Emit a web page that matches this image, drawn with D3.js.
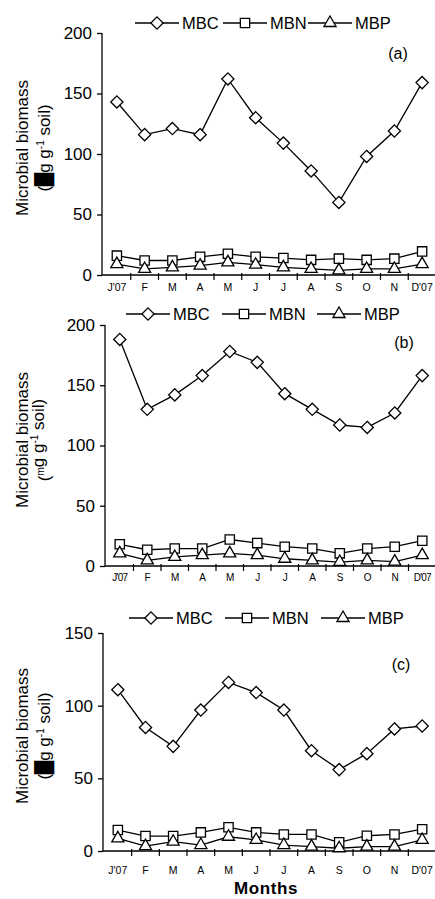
<!DOCTYPE html>
<html>
<head>
<meta charset="utf-8">
<script src="https://cdn.jsdelivr.net/npm/d3@7"></script>
<style>
  html, body { margin: 0; padding: 0; background: #fff; }
  svg { display: block; }
  text { font-family: "Liberation Sans", Arial, sans-serif; fill: #000; }
</style>
</head>
<body>
<div id="chart"></div>
<script>
(function () {
    "use strict";

    // month labels (x categories)
    var months = ["J'07", "F", "M", "A", "M", "J", "J", "A", "S", "O", "N", "D'07"];
    var seriesNames = ["MBC", "MBN", "MBP"];

    // panel (a)
    var mbcA = [143, 116, 121, 116, 162, 130, 109, 86, 60, 98, 119, 159];
    var mbnA = [16, 12, 12, 15, 17.5, 15, 14, 12.5, 13.5, 12.5, 13.5, 19.5];
    var mbpA = [9, 5, 6.3, 7.7, 10.4, 8.5, 6.3, 5, 3.8, 5, 5, 9];

    // panel (b)
    var mbcB = [188, 130, 142, 158, 178, 169, 143, 130, 117, 115, 127, 158];
    var mbnB = [18, 13.5, 14.5, 14.5, 22, 19, 16, 14.5, 10.5, 14.5, 16, 21];
    var mbpB = [10.5, 4.7, 7.5, 9, 10.5, 9, 6, 4.7, 3.3, 4.7, 3.6, 9];

    // panel (c)
    var mbcC = [111, 85, 72, 97, 116, 109, 97, 69, 56, 67, 84, 86];
    var mbnC = [14.4, 10.3, 10.3, 12.8, 16.3, 12.8, 11.4, 11.4, 6, 10.5, 11.4, 15];
    var mbpC = [8.7, 3.4, 6.4, 4.1, 9.8, 7.6, 4.1, 3, 1.9, 3, 3, 7.6];

    var ticks200 = [0, 50, 100, 150, 200];
    var ticks150 = [0, 50, 100, 150];

    var W = 435, H = 899;

    var panels = [
        { tag: "(a)", series: [mbcA, mbnA, mbpA], yMax: 200, ticks: ticks200,
          top: 33, bottom: 275, axisX: 102, legendY: 23, legendX: [135, 223, 308],
          tagX: 398, tagY: 59, titleY: 148, unit: "block",
          monthY: 291, monthSize: 10.5, monthSpacing: 0 },
        { tag: "(b)", series: [mbcB, mbnB, mbpB], yMax: 200, ticks: ticks200,
          top: 325, bottom: 566, axisX: 105, legendY: 314, legendX: [126, 222, 317],
          tagX: 404, tagY: 348, titleY: 440, unit: "m",
          monthY: 581, monthSize: 10, monthSpacing: -0.8 },
        { tag: "(c)", series: [mbcC, mbnC, mbpC], yMax: 150, ticks: ticks150,
          top: 633, bottom: 851, axisX: 103, legendY: 618, legendX: [129, 225, 321],
          tagX: 401, tagY: 670, titleY: 736, unit: "block",
          monthY: 874, monthSize: 10.5, monthSpacing: 0 }
    ];

    var svg = d3.select("#chart").append("svg")
        .attr("width", W)
        .attr("height", H);

    var symbols = [d3.symbolDiamond2, d3.symbolSquare2, d3.symbolTriangle2];
    var symSize = [95, 110, 105];

    function marker(g, i) {
        return g.append("path")
            .attr("d", d3.symbol().type(symbols[i]).size(symSize[i])())
            .attr("fill", "#fff")
            .attr("stroke", "#000")
            .attr("stroke-width", 1.3);
    }

    panels.forEach(function (p) {
        var g = svg.append("g");

        var x = d3.scaleBand()
            .domain(d3.range(months.length))
            .range([p.axisX + 1, W + 1]);

        var y = d3.scaleLinear()
            .domain([0, p.yMax])
            .range([p.bottom, p.top]);

        // y axis
        var yAxis = g.append("g")
            .attr("transform", "translate(" + p.axisX + ",0)")
            .call(d3.axisLeft(y).tickValues(p.ticks).tickSize(5).tickPadding(5));
        yAxis.select(".domain").attr("stroke", "#000").attr("stroke-width", 1.3)
            .attr("d", "M0," + y(0) + "V" + y(p.yMax));
        yAxis.selectAll(".tick line").attr("stroke", "#000").attr("stroke-width", 1.3);
        yAxis.selectAll(".tick text")
            .attr("font-family", "Liberation Sans, Arial, sans-serif")
            .attr("font-size", 17)
            .attr("fill", "#000");

        // x axis line with ticks at category boundaries
        var xg = g.append("g").attr("transform", "translate(0," + y(0) + ")");
        xg.append("line")
            .attr("x1", p.axisX).attr("x2", W)
            .attr("stroke", "#000").attr("stroke-width", 1.3);
        xg.selectAll("line.tk")
            .data(d3.range(1, months.length))
            .enter().append("line")
            .attr("class", "tk")
            .attr("x1", function (d) { return x(d); })
            .attr("x2", function (d) { return x(d); })
            .attr("y1", -2).attr("y2", 5)
            .attr("stroke", "#000").attr("stroke-width", 1.2);

        g.selectAll("text.month")
            .data(months)
            .enter().append("text")
            .attr("class", "month")
            .attr("x", function (d, i) { return x(i) + x.bandwidth() / 2; })
            .attr("y", p.monthY)
            .attr("text-anchor", "middle")
            .attr("font-size", p.monthSize)
            .attr("letter-spacing", p.monthSpacing)
            .text(function (d) { return d; });

        // series
        var line = d3.line()
            .x(function (d, i) { return x(i) + x.bandwidth() / 2; })
            .y(function (d) { return y(d); });

        p.series.forEach(function (vals) {
            g.append("path")
                .datum(vals)
                .attr("d", line)
                .attr("fill", "none")
                .attr("stroke", "#000")
                .attr("stroke-width", 1.3);
        });
        p.series.forEach(function (vals, si) {
            vals.forEach(function (v, i) {
                marker(g, si).attr("transform", "translate(" + (x(i) + x.bandwidth() / 2) + "," + y(v) + ")");
            });
        });

        // legend
        seriesNames.forEach(function (name, si) {
            var lx = p.legendX[si];
            var lg = g.append("g").attr("transform", "translate(" + lx + "," + p.legendY + ")");
            lg.append("line")
                .attr("x1", 0).attr("x2", 44)
                .attr("stroke", "#000").attr("stroke-width", 1.3);
            marker(lg, si).attr("transform", "translate(22,0)");
            lg.append("text")
                .attr("x", 47)
                .attr("y", 6)
                .attr("font-size", 16.5)
                .text(name);
        });

        // panel tag
        g.append("text")
            .attr("x", p.tagX)
            .attr("y", p.tagY)
            .attr("text-anchor", "middle")
            .attr("font-size", 16)
            .text(p.tag);

        // y title (two lines)
        var tt = g.append("g")
            .attr("transform", "translate(0," + p.titleY + ") rotate(-90)");
        tt.append("text")
            .attr("x", 0).attr("y", 28)
            .attr("text-anchor", "middle")
            .attr("font-size", 17)
            .text("Microbial biomass");
        var t2 = tt.append("text")
            .attr("x", 0).attr("y", 50)
            .attr("text-anchor", "middle")
            .attr("font-size", 17);
        t2.append("tspan").text("(");
        if (p.unit === "block") {
            t2.append("tspan")
                .attr("font-family", "DejaVu Sans")
                .text("\u2588");
        } else {
            t2.append("tspan")
                .attr("font-size", 10)
                .attr("dy", -6)
                .text("m");
            t2.append("tspan").attr("dy", 6).text("");
        }
        t2.append("tspan").text("g g");
        t2.append("tspan")
            .attr("font-size", 10)
            .attr("dy", -6)
            .text("-1");
        t2.append("tspan").attr("dy", 6).text(" soil)");
    });

    svg.append("text")
        .attr("x", 266)
        .attr("y", 894)
        .attr("text-anchor", "middle")
        .attr("font-size", 17)
        .attr("font-weight", "bold")
        .attr("letter-spacing", 0.6)
        .text("Months");
})();
</script>
</body>
</html>
